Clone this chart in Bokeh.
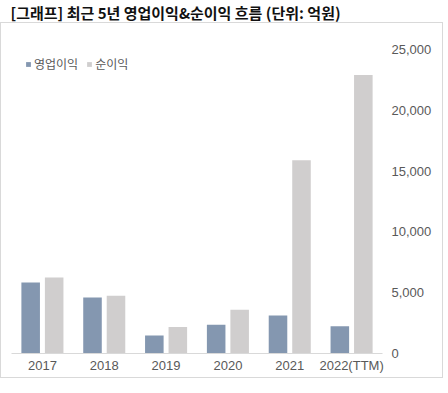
from bokeh.plotting import figure
from bokeh.layouts import column
from bokeh.models import (Range1d, FactorRange, FixedTicker, NumeralTickFormatter, LinearAxis,
                          CategoricalAxis, Legend, LegendItem, Label)
from bokeh.transform import dodge
from bokeh.embed import file_html
from bokeh.resources import INLINE

categories = ["2017", "2018", "2019", "2020", "2021", "2022(TTM)"]
op_income = [5830, 4610, 1490, 2370, 3120, 2240]
net_income = [6240, 4750, 2180, 3590, 15890, 22910]
series_names = ["영업이익", "순이익"]
y_ticks = [0, 5000, 10000, 15000, 20000, 25000]
title_text = "[그래프] 최근 5년 영업이익&순이익 흐름 (단위: 억원)"

KR = "Noto Sans CJK KR"
NUM = "Liberation Sans"
TXT = "#595959"

# title strip
pt = figure(width=435, height=22, output_backend="svg", toolbar_location=None,
            x_axis_location=None, y_axis_location=None, outline_line_color=None,
            min_border_left=0, min_border_right=0, min_border_top=0, min_border_bottom=0)
pt.grid.visible = False
pt.add_layout(Label(x=0, y=10, x_units="screen", y_units="screen", text=title_text,
                    text_font=KR, text_font_size="15px", text_font_style="bold",
                    text_color="#111111", text_baseline="middle", text_align="left"))

# chart
p = figure(frame_width=369, frame_height=302, x_range=FactorRange(*categories), y_range=Range1d(0, 25000),
           output_backend="svg", toolbar_location=None, y_axis_location=None, x_axis_location=None,
           min_border_left=10, min_border_right=62, min_border_top=26, min_border_bottom=26,
           outline_line_color=None, background_fill_color=None, border_fill_color="white",
           styles={"border": "1px solid #d9d9d9"})
p.grid.visible = False

src = dict(x=categories, op=op_income, net=net_income)
r1 = p.vbar(x=dodge("x", -0.19, range=p.x_range), top="op", width=0.3, source=src,
            fill_color="#8497b0", line_color=None)
r2 = p.vbar(x=dodge("x", 0.19, range=p.x_range), top="net", width=0.3, source=src,
            fill_color="#d0cece", line_color=None)

xa = CategoricalAxis(axis_line_color="#d9d9d9", major_tick_line_color=None, minor_tick_line_color=None,
                     major_tick_out=0, major_tick_in=0,
                     major_label_text_font=NUM, major_label_text_font_size="13px",
                     major_label_text_color=TXT, major_label_standoff=4)
p.add_layout(xa, "below")

ya = LinearAxis(ticker=FixedTicker(ticks=y_ticks), formatter=NumeralTickFormatter(format="0,0"),
                axis_line_color=None, major_tick_line_color=None, minor_tick_line_color=None,
                major_tick_out=0, major_tick_in=0,
                major_label_text_font=NUM, major_label_text_font_size="13px",
                major_label_text_color=TXT, major_label_standoff=9)
p.add_layout(ya, "right")

legend = Legend(items=[LegendItem(label=series_names[0], renderers=[r1]),
                       LegendItem(label=series_names[1], renderers=[r2])],
                location=(14, 281), orientation="horizontal", glyph_width=6, glyph_height=6,
                label_height=14, label_standoff=3, spacing=8, padding=0, margin=0,
                label_text_font=KR, label_text_font_size="12px", label_text_color=TXT,
                border_line_color=None, background_fill_alpha=0)
p.add_layout(legend, "center")

layout = column(pt, p, spacing=0)
open("out.html", "w").write(file_html(layout, INLINE))
